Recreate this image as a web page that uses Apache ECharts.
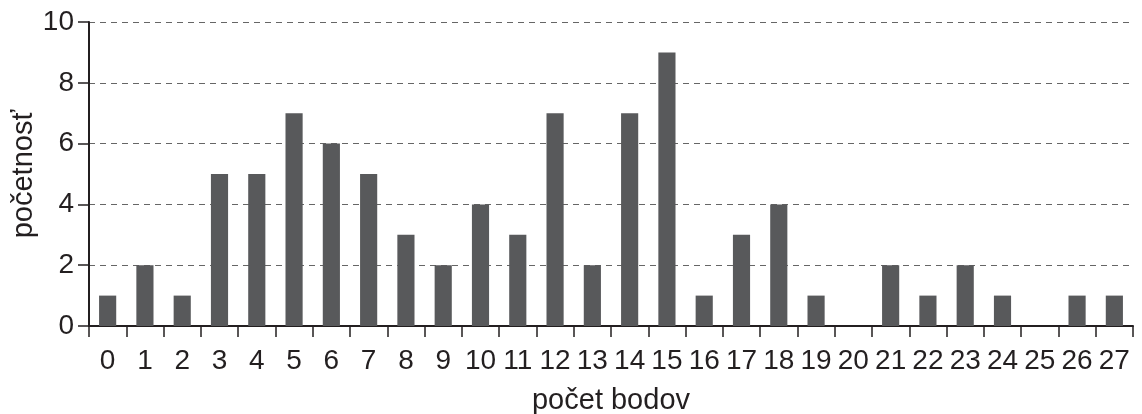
<!DOCTYPE html>
<html><head><meta charset="utf-8">
<script src="https://cdn.jsdelivr.net/npm/echarts@6/dist/echarts.min.js"></script>
<style>html,body{margin:0;padding:0;background:#fff}#c{width:1142px;height:414px}</style>
</head><body><div id="c"></div>
<script>
const categories = ['0','1','2','3','4','5','6','7','8','9','10','11','12','13','14','15','16','17','18','19','20','21','22','23','24','25','26','27'];
const values = [1,2,1,5,5,7,6,5,3,2,4,3,7,2,7,9,1,3,4,1,0,2,1,2,1,0,1,1];
const yTicks = [0,2,4,6,8,10];
const font = '"Liberation Sans", Arial, sans-serif';
const chart = echarts.init(document.getElementById('c'), null, {renderer:'canvas'});
chart.setOption({
  animation:false,
  grid:{left:89,right:9,top:22,bottom:88,containLabel:false,outerBoundsMode:'none'},
  xAxis:{
    type:'category', data:categories, boundaryGap:true,
    name:'počet bodov', nameLocation:'middle', nameGap:60, nameMoveOverlap:false,
    nameTextStyle:{fontFamily:font,fontSize:29,color:'#231f20'},
    axisLine:{lineStyle:{color:'#231f20',width:2}},
    axisTick:{show:true,interval:0,alignWithLabel:false,length:11,lineStyle:{color:'#231f20',width:1.5}},
    axisLabel:{interval:0,margin:21,fontFamily:font,fontSize:28,color:'#231f20'}
  },
  yAxis:{
    type:'value', min:0, max:10, interval:2,
    name:'početnosť', nameLocation:'middle', nameGap:51, nameMoveOverlap:false,
    nameTextStyle:{fontFamily:font,fontSize:29,color:'#231f20'},
    axisLine:{show:true,lineStyle:{color:'#231f20',width:2}},
    axisTick:{show:true,length:11,lineStyle:{color:'#231f20',width:1.5}},
    axisLabel:{margin:15,fontFamily:font,fontSize:28,color:'#231f20',
      formatter:v=>yTicks.includes(v)?String(v):''},
    splitLine:{show:true,lineStyle:{color:'#666666',type:[6,5],width:1}}
  },
  series:[{type:'bar',data:values,barWidth:'46%',itemStyle:{color:'#58595b'}}]
});
</script></body></html>
